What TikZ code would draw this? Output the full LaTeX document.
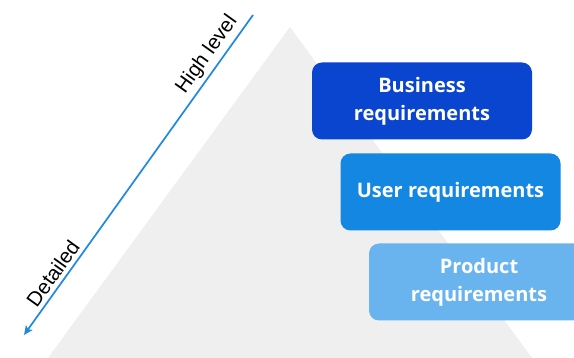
\documentclass[tikz,border=0pt]{standalone}
\usepackage{fontspec}
\setmainfont{Liberation Sans}
\newfontfamily\boxfont{Open Sans}
\usetikzlibrary{arrows.meta}
\definecolor{tri}{HTML}{EFEFEF}
\definecolor{arrowblue}{HTML}{1E88E5}
\definecolor{bizblue}{HTML}{0A45D0}
\definecolor{userblue}{HTML}{1387E2}
\definecolor{prodblue}{HTML}{69B4EF}
\tikzset{
  reqbox/.style={rounded corners=10pt, minimum width=220pt, minimum height=77pt,
    inner sep=0pt, align=center, text=white, font=\boxfont\bfseries\fontsize{20}{28}\selectfont},
  lvl/.style={font=\fontsize{20.5}{24}\selectfont, text=black, inner sep=1pt}
}
\begin{document}
\begin{tikzpicture}[x=1pt,y=-1pt]
\clip (0,0) rectangle (574,358);
\fill[white] (0,0) rectangle (574,358);
% pyramid
\coordinate (apex) at (290,27);
\coordinate (bl) at (48,358);
\coordinate (br) at (532,358);
\fill[tri] (apex) -- (br) -- (bl) -- cycle;
% arrow
\coordinate (atop) at (253,15);
\coordinate (abot) at (24,335);
\draw[arrowblue, line width=1.7pt, -{Stealth[length=9pt,width=8pt,inset=2pt]}] (atop) -- (abot)
  node[lvl, pos=0.15, sloped, above=3pt] (hl) {High level}
  node[lvl, pos=0.83, sloped, above=3pt] (dt) {Detailed};
% boxes
\node[reqbox, fill=bizblue] (biz) at (422,101) {Business\\requirements};
\node[reqbox, fill=userblue] (usr) at (450.5,192) {User requirements};
\node[reqbox, fill=prodblue] (prd) at (479,282) {Product\\requirements};
\end{tikzpicture}
\end{document}
